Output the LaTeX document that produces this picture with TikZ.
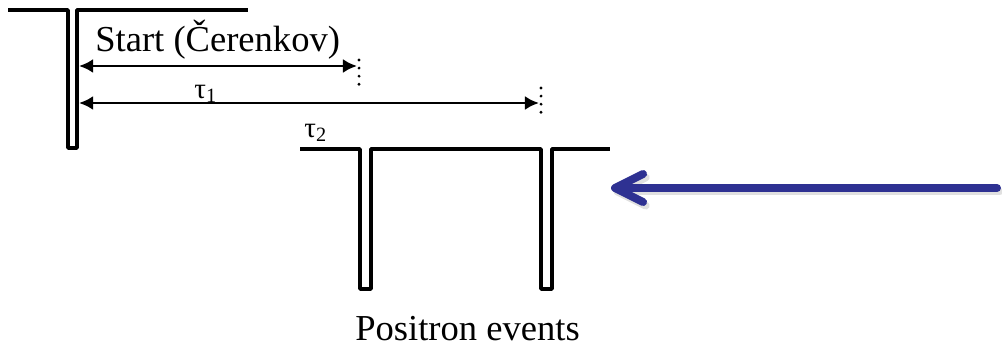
\documentclass[tikz,border=0pt]{standalone}
\usepackage{fontspec}
\setmainfont{Liberation Serif}
\usetikzlibrary{arrows.meta}
\definecolor{beamblue}{RGB}{46,49,146}
\tikzset{
  pulse/.style={line width=2pt, line join=round},
  meas/.style={line width=1.6pt, {Latex[length=8pt,width=8pt]}-{Latex[length=8pt,width=8pt]}},
  marker/.style={line width=1.8pt, line cap=round, dash pattern=on 0pt off 4.6pt},
  beam/.style={line width=4.5pt, beamblue, line cap=round,
    -{Straight Barb[length=16pt,width=16pt,line cap=round,line join=round]}},
  lbl/.style={inner sep=0pt, font=\fontsize{20.8}{24}\selectfont},
  taulbl/.style={inner sep=0pt, font=\fontsize{16.5}{19}\selectfont}
}
\begin{document}
\begin{tikzpicture}[x=0.2mm,y=-0.2mm]
    \useasboundingbox (0,0) rectangle (1002,347);

    % pulso de inicio
    \draw[pulse] (8,10) -- (68,10) -- (68,148) -- (77,148) -- (77,10) -- (248,10);
    \node[lbl,anchor=base west] (start) at (95,52) {Start (Čerenkov)};

    % pulsos de positrones
    \draw[pulse] (300,149) -- (360,149) -- (360,289) -- (371,289) -- (371,149)
      -- (541,149) -- (541,289) -- (552,289) -- (552,149) -- (610,149);
    \node[lbl,anchor=base west] (events) at (355,340) {Positron events};

    % intervalos tau
    \coordinate (a1) at (79,66);
    \coordinate (b1) at (357,66);
    \coordinate (a2) at (79,103);
    \coordinate (b2) at (539,103);
    \draw[meas] (a1) -- (b1);
    \draw[meas] (a2) -- (b2);
    \draw[marker] (359,60) -- (359,86);
    \draw[marker] (541,88) -- (541,113);
    \node[taulbl,anchor=base west] (tau1) at (194,98) {τ\textsubscript{1}};
    \node[taulbl,anchor=base west] (tau2) at (304,137) {τ\textsubscript{2}};

    % flecha azul
    \coordinate (src) at (997,188);
    \coordinate (tgt) at (611,188);
    \draw[beam,draw=black,opacity=0.12,transform canvas={shift={(1.5pt,-2pt)}}] (src) -- (tgt);
    \draw[beam] (src) -- (tgt);
\end{tikzpicture}
\end{document}
